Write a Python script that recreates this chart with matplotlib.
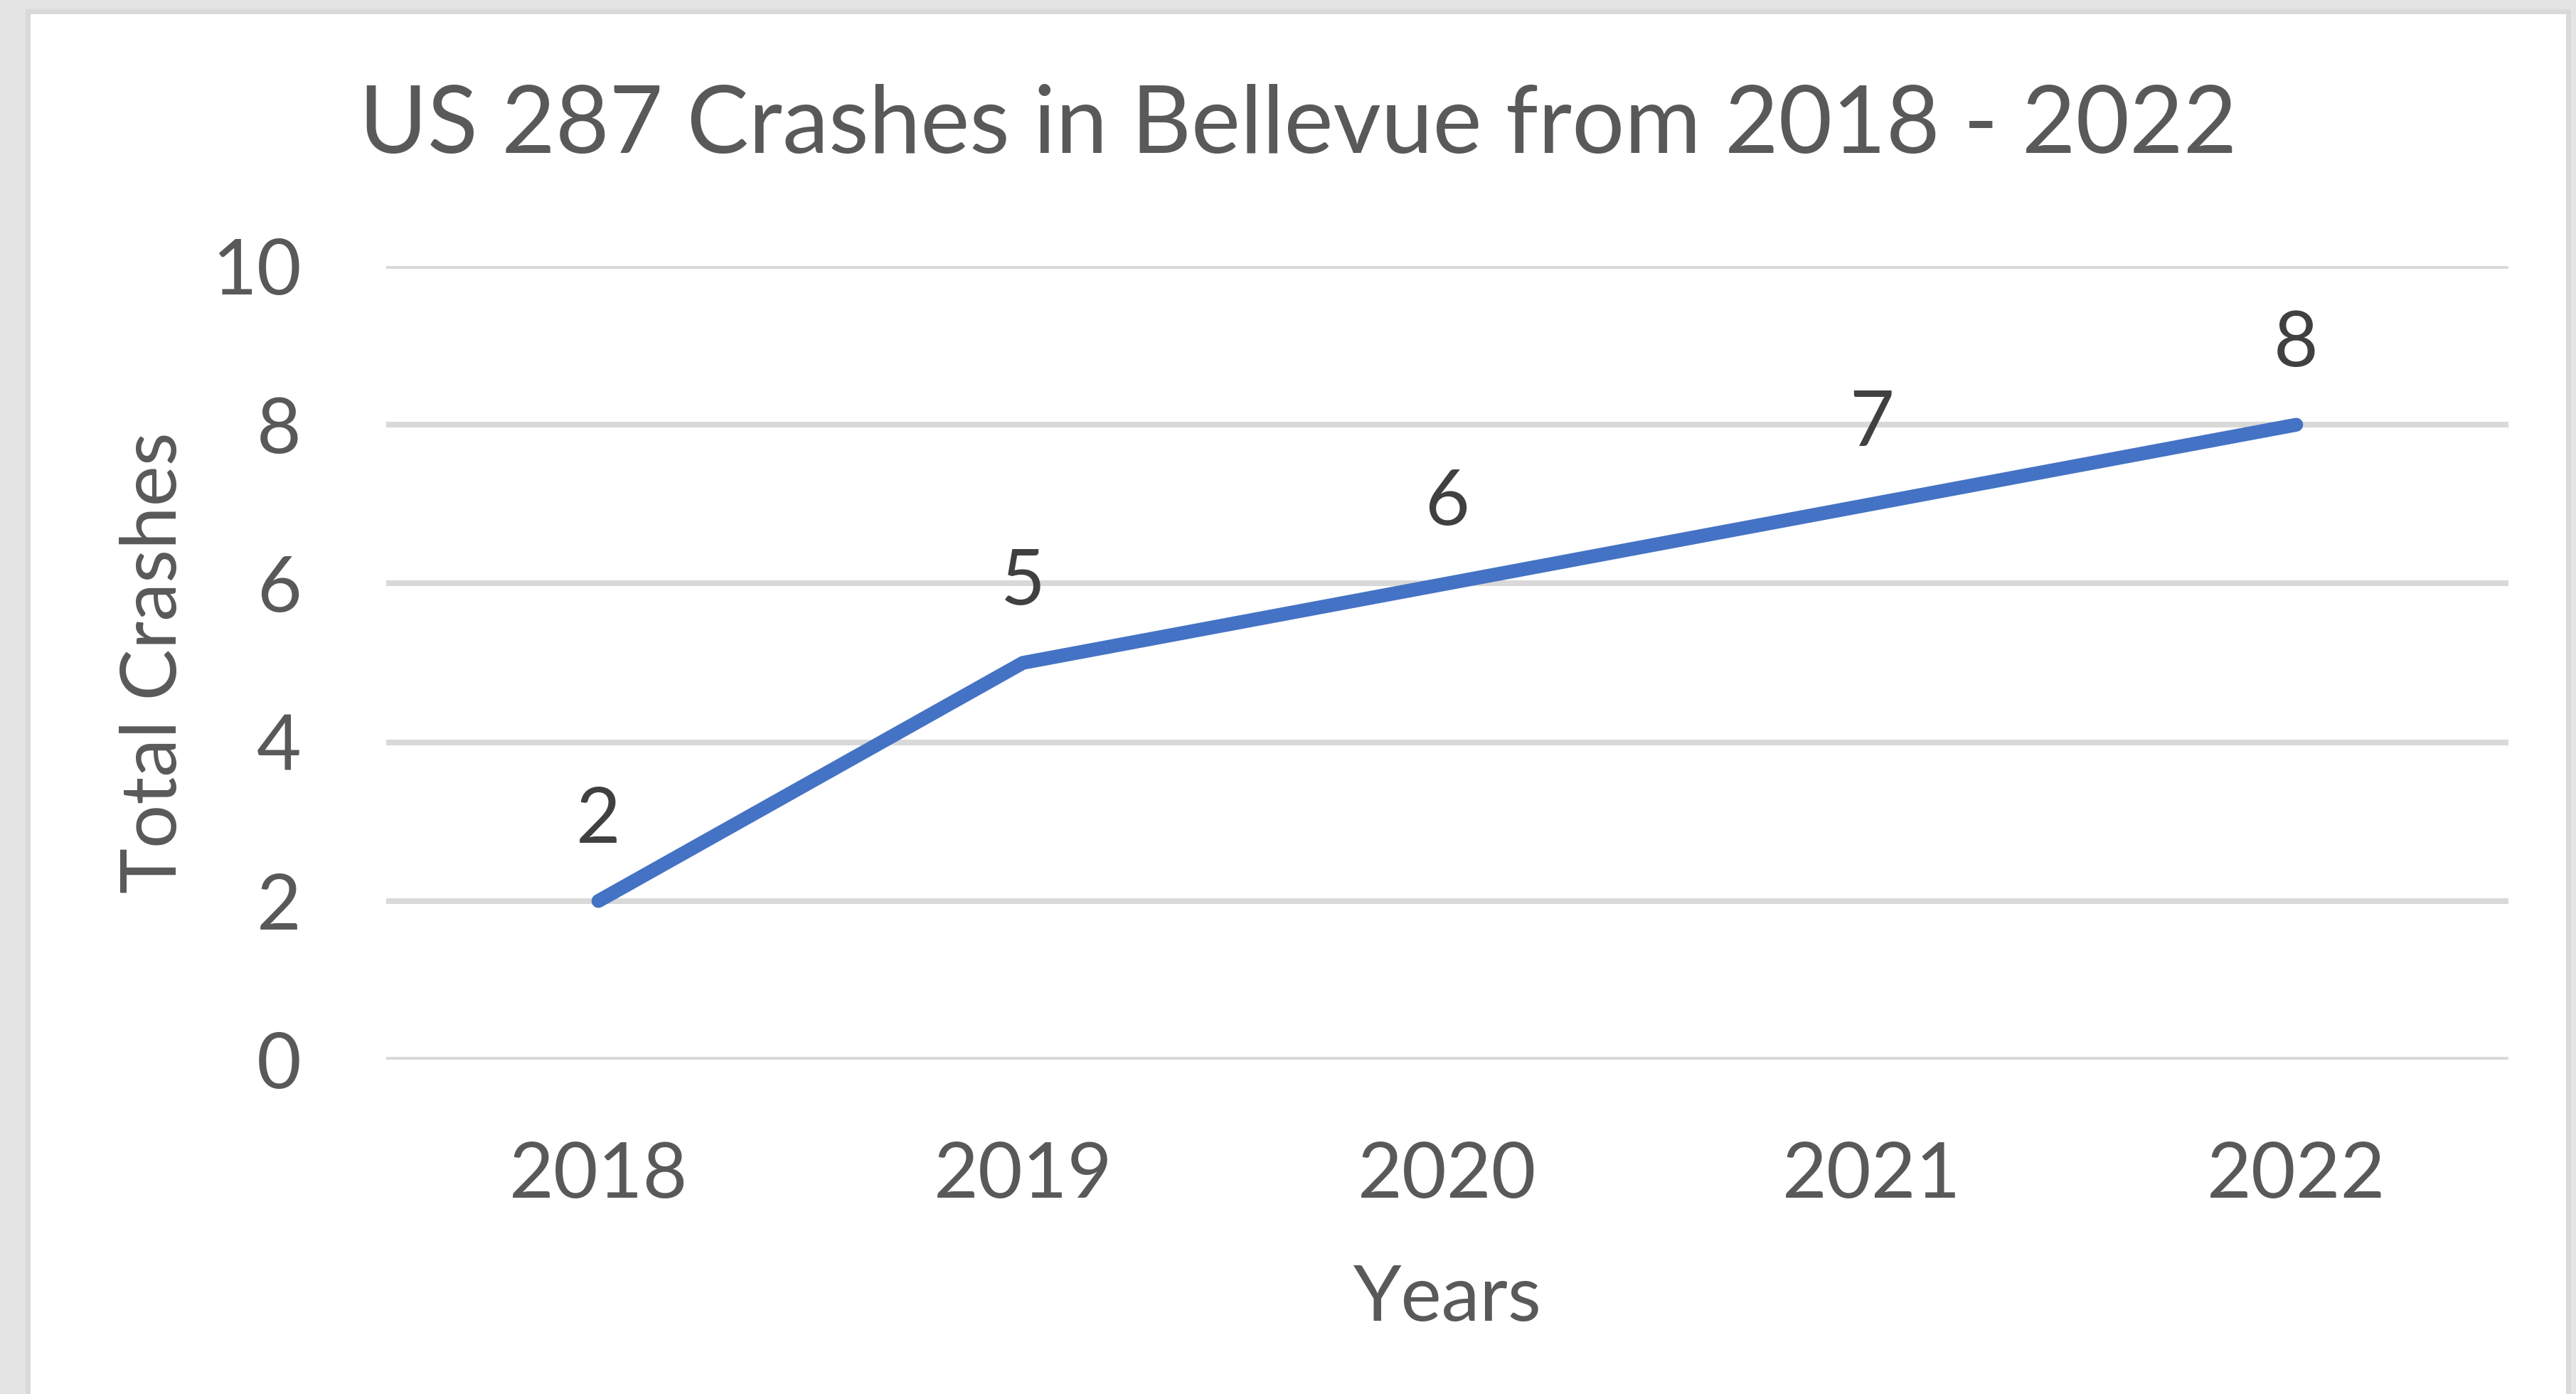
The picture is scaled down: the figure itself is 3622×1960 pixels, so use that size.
import matplotlib.pyplot as plt
from matplotlib.patches import Rectangle

years = ['2018', '2019', '2020', '2021', '2022']
crashes = [2, 5, 6, 7, 8]
y_ticks = [0, 2, 4, 6, 8, 10]

W, H = 3622, 1960
plt.rcParams['font.family'] = ['Lato', 'DejaVu Sans']

fig = plt.figure(figsize=(W / 100, H / 100), dpi=100, facecolor='#e4e4e4')

# white chart area with light grey border (screenshot frame)
fig.patches.append(Rectangle((38.5 / W, -0.02), (3610.5 - 38.5) / W, 1 - 15.5 / H + 0.02,
                             transform=fig.transFigure, facecolor='white',
                             edgecolor='#d9d9d9', linewidth=5.0, zorder=-10))

ax = fig.add_axes([543 / W, 470 / H, (3527 - 543) / W, (1490 - 374) / H])
ax.set_zorder(1)
ax.set_facecolor('none')

x = list(range(len(years)))
ax.plot(x, crashes, color='#4472c4', linewidth=14, solid_capstyle='round',
        solid_joinstyle='round', zorder=3)

for xi, v in zip(x, crashes):
    ax.annotate(str(v), (xi, v), xytext=(0, 59), textcoords='offset points',
                ha='center', va='baseline', fontsize=78, color='#404040')

ax.set_xlim(-0.5, len(years) - 0.5)
ax.set_ylim(0, 10)
ax.set_yticks(y_ticks)
ax.set_xticks(x)
ax.set_xticklabels(years)
ax.grid(axis='y', color='#d9d9d9', linewidth=5.8, zorder=1)
ax.set_axisbelow(True)
for s in ax.spines.values():
    s.set_visible(False)
ax.tick_params(axis='both', length=0, labelsize=78, labelcolor='#595959')
ax.tick_params(axis='x', pad=82)
ax.tick_params(axis='y', pad=86)

ax.set_xlabel('Years', fontsize=78, color='#595959', va='baseline')
ax.xaxis.set_label_coords(0.5, -(1857 - 1490) / 1116)
ax.set_ylabel('Total Crashes', fontsize=78, color='#595959', va='center')
ax.yaxis.set_label_coords((218 - 543) / 2984, 0.5)

fig.text(1825 / W, 1 - 215 / H, 'US 287 Crashes in Bellevue from 2018 - 2022',
         ha='center', va='baseline', fontsize=94, color='#595959')

fig.savefig('out.png', dpi=100, facecolor=fig.get_facecolor())
